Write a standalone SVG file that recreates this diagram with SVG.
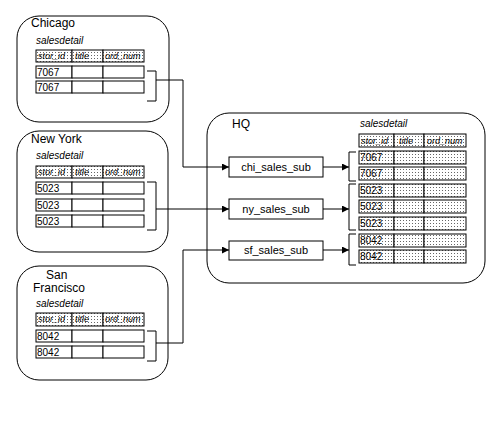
<svg xmlns="http://www.w3.org/2000/svg" width="496" height="425" viewBox="0 0 496 425">
<defs>
<pattern id="dots" width="3" height="3" patternUnits="userSpaceOnUse">
<rect width="3" height="3" fill="#fff"/>
<rect x="1" y="1" width="1" height="1" fill="#666"/>
</pattern>
<marker id="arr" viewBox="0 0 10 10" refX="10" refY="5" markerWidth="7" markerHeight="7" markerUnits="userSpaceOnUse" orient="auto">
<path d="M0,0 L10,5 L0,10 z" fill="#000"/>
</marker>
</defs>
<style>
.site{fill:#fff;stroke:#000;stroke-width:1}
.cell{fill:#fff;stroke:#000;stroke-width:1}
.dcell{fill:url(#dots);stroke:#000;stroke-width:1}
.title{font-family:"Liberation Sans",Arial,sans-serif;font-size:12px;fill:#000}
.tname{font-family:"Liberation Sans",Arial,sans-serif;font-size:10px;font-style:italic;fill:#000}
.hdr{font-family:"Liberation Sans",Arial,sans-serif;font-size:9px;font-style:italic;fill:#000}
.val{font-family:"Liberation Sans",Arial,sans-serif;font-size:10px;fill:#000}
.sub{font-family:"Liberation Sans",Arial,sans-serif;font-size:11px;fill:#000}
.conn{fill:none;stroke:#000;stroke-width:1}
</style>
<rect width="496" height="425" fill="#fff"/>

<g id="chicago">
<rect class="site" x="17" y="16" width="152" height="106" rx="22" ry="22"/>
<text class="title" x="31" y="27">Chicago</text>
<text class="tname" x="36" y="44">salesdetail</text>
<rect class="dcell" x="36" y="50" width="36" height="12"/><rect class="dcell" x="72" y="50" width="31" height="12"/><rect class="dcell" x="103" y="50" width="41" height="12"/>
<text class="hdr" x="38" y="59">stor_id</text><text class="hdr" x="75" y="59">title</text><text class="hdr" x="105" y="59">ord_num</text>
<rect class="cell" x="36" y="66" width="36" height="12"/><rect class="cell" x="72" y="66" width="31" height="12"/><rect class="cell" x="103" y="66" width="41" height="12"/>
<text class="val" x="37" y="76">7067</text>
<rect class="cell" x="36" y="81" width="36" height="12"/><rect class="cell" x="72" y="81" width="31" height="12"/><rect class="cell" x="103" y="81" width="41" height="12"/>
<text class="val" x="37" y="91">7067</text>
</g>

<g id="newyork">
<rect class="site" x="17" y="131" width="151" height="121" rx="22" ry="22"/>
<text class="title" x="31" y="143">New York</text>
<text class="tname" x="36" y="159">salesdetail</text>
<rect class="dcell" x="36" y="166" width="36" height="12"/><rect class="dcell" x="72" y="166" width="31" height="12"/><rect class="dcell" x="103" y="166" width="41" height="12"/>
<text class="hdr" x="38" y="175">stor_id</text><text class="hdr" x="75" y="175">title</text><text class="hdr" x="105" y="175">ord_num</text>
<rect class="cell" x="36" y="182" width="36" height="12"/><rect class="cell" x="72" y="182" width="31" height="12"/><rect class="cell" x="103" y="182" width="41" height="12"/>
<text class="val" x="37" y="192">5023</text>
<rect class="cell" x="36" y="199" width="36" height="12"/><rect class="cell" x="72" y="199" width="31" height="12"/><rect class="cell" x="103" y="199" width="41" height="12"/>
<text class="val" x="37" y="209">5023</text>
<rect class="cell" x="36" y="215" width="36" height="12"/><rect class="cell" x="72" y="215" width="31" height="12"/><rect class="cell" x="103" y="215" width="41" height="12"/>
<text class="val" x="37" y="225">5023</text>
</g>

<g id="sanfrancisco">
<rect class="site" x="17" y="266" width="151" height="114" rx="22" ry="22"/>
<text class="title" x="46" y="279">San</text>
<text class="title" x="33" y="292">Francisco</text>
<text class="tname" x="36" y="307">salesdetail</text>
<rect class="dcell" x="36" y="313" width="36" height="13"/><rect class="dcell" x="72" y="313" width="31" height="13"/><rect class="dcell" x="103" y="313" width="41" height="13"/>
<text class="hdr" x="38" y="322">stor_id</text><text class="hdr" x="75" y="322">title</text><text class="hdr" x="105" y="322">ord_num</text>
<rect class="cell" x="36" y="330" width="36" height="12"/><rect class="cell" x="72" y="330" width="31" height="12"/><rect class="cell" x="103" y="330" width="41" height="12"/>
<text class="val" x="37" y="340">8042</text>
<rect class="cell" x="36" y="346" width="36" height="12"/><rect class="cell" x="72" y="346" width="31" height="12"/><rect class="cell" x="103" y="346" width="41" height="12"/>
<text class="val" x="37" y="356">8042</text>
</g>

<g id="hq">
<rect class="site" x="207" y="113" width="278" height="170" rx="22" ry="22"/>
<text class="title" x="232" y="128">HQ</text>
</g>

<g id="chi_sales_sub">
<rect class="cell" x="229" y="157" width="94" height="20"/>
<text class="sub" x="276" y="171" text-anchor="middle">chi_sales_sub</text>
</g>
<g id="ny_sales_sub">
<rect class="cell" x="229" y="199" width="94" height="20"/>
<text class="sub" x="276" y="213" text-anchor="middle">ny_sales_sub</text>
</g>
<g id="sf_sales_sub">
<rect class="cell" x="229" y="241" width="94" height="19"/>
<text class="sub" x="276" y="254" text-anchor="middle">sf_sales_sub</text>
</g>

<g id="hq_salesdetail">
<text class="tname" x="360" y="127">salesdetail</text>
<rect class="dcell" x="359" y="134" width="35" height="13"/><rect class="dcell" x="394" y="134" width="30" height="13"/><rect class="dcell" x="424" y="134" width="42" height="13"/>
<text class="hdr" x="361" y="144">stor_id</text><text class="hdr" x="399" y="144">title</text><text class="hdr" x="427" y="144">ord_num</text>
<rect class="dcell" x="359" y="151" width="35" height="13"/><rect class="dcell" x="394" y="151" width="30" height="13"/><rect class="dcell" x="424" y="151" width="42" height="13"/>
<text class="val" x="360" y="161">7067</text>
<rect class="dcell" x="359" y="167" width="35" height="13"/><rect class="dcell" x="394" y="167" width="30" height="13"/><rect class="dcell" x="424" y="167" width="42" height="13"/>
<text class="val" x="360" y="177">7067</text>
<rect class="dcell" x="359" y="184" width="35" height="13"/><rect class="dcell" x="394" y="184" width="30" height="13"/><rect class="dcell" x="424" y="184" width="42" height="13"/>
<text class="val" x="360" y="194">5023</text>
<rect class="dcell" x="359" y="200" width="35" height="13"/><rect class="dcell" x="394" y="200" width="30" height="13"/><rect class="dcell" x="424" y="200" width="42" height="13"/>
<text class="val" x="360" y="210">5023</text>
<rect class="dcell" x="359" y="217" width="35" height="13"/><rect class="dcell" x="394" y="217" width="30" height="13"/><rect class="dcell" x="424" y="217" width="42" height="13"/>
<text class="val" x="360" y="227">5023</text>
<rect class="dcell" x="359" y="234" width="35" height="13"/><rect class="dcell" x="394" y="234" width="30" height="13"/><rect class="dcell" x="424" y="234" width="42" height="13"/>
<text class="val" x="360" y="244">8042</text>
<rect class="dcell" x="359" y="250" width="35" height="13"/><rect class="dcell" x="394" y="250" width="30" height="13"/><rect class="dcell" x="424" y="250" width="42" height="13"/>
<text class="val" x="360" y="260">8042</text>
</g>

<g id="connectors">
<path class="conn" d="M147,71 H156 V101 H147"/>
<path class="conn" d="M147,182 H156 V230 H147"/>
<path class="conn" d="M147,331 H156 V361 H147"/>
<path class="conn" d="M356,152 H349 V181 H356"/>
<path class="conn" d="M356,184 H349 V230 H356"/>
<path class="conn" d="M356,234 H349 V265 H356"/>
<path class="conn" d="M156,80 H183 V167 H229" marker-end="url(#arr)"/>
<path class="conn" d="M156,209 H229" marker-end="url(#arr)"/>
<path class="conn" d="M156,343 H183 V250 H229" marker-end="url(#arr)"/>
<path class="conn" d="M323,167 H349" marker-end="url(#arr)"/>
<path class="conn" d="M323,209 H349" marker-end="url(#arr)"/>
<path class="conn" d="M323,250 H349" marker-end="url(#arr)"/>
</g>
</svg>
